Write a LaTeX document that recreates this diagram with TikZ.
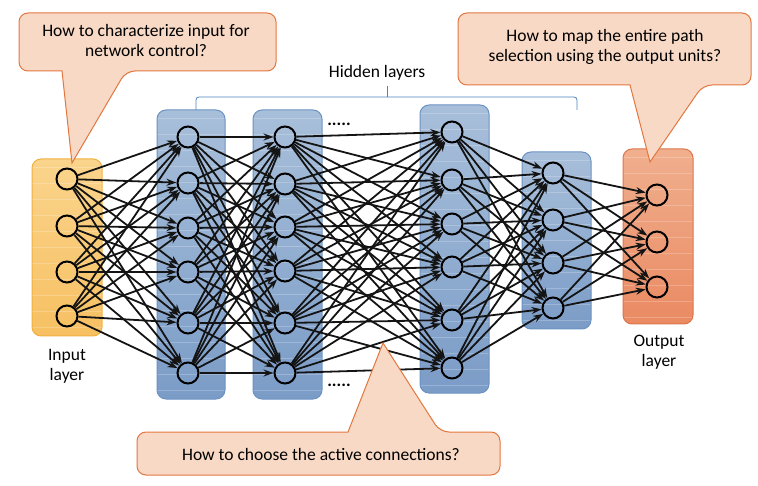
\documentclass[tikz,border=0pt]{standalone}
\usepackage{fontspec}
\setmainfont{Carlito}
\usetikzlibrary{positioning,arrows.meta}
\definecolor{calloutfill}{HTML}{F8D9C5}
\definecolor{calloutdraw}{HTML}{E2773F}
\definecolor{bluetop}{HTML}{A8BFDA}
\definecolor{bluebot}{HTML}{7B9CC7}
\definecolor{blueedge}{HTML}{6A92C2}
\definecolor{inptop}{HTML}{FAD48C}
\definecolor{inpbot}{HTML}{F7C062}
\definecolor{inpedge}{HTML}{F0B040}
\definecolor{outtop}{HTML}{F0AF8E}
\definecolor{outbot}{HTML}{EA8A62}
\definecolor{outedge}{HTML}{E0744A}
\definecolor{bracecol}{HTML}{4F81BD}
\newcommand*{\txt}{\fontsize{17.5}{20}\selectfont}
% Layer box: x1, y1, x2, y2, top colour, bottom colour, border colour
\newcommand*{\layerbox}[7]{%
  \begin{scope}
    \clip[rounded corners=9pt] (#1,#2) rectangle (#3,#4);
    \shade[top color=#5,bottom color=#6] (#1,#2) rectangle (#3,#4);
    \foreach \s in {0,16,...,300}
      \draw[white,opacity=.22,line width=.6pt] (#1,#2+\s+8) -- (#3,#2+\s+8);
  \end{scope}
  \draw[#7,line width=1pt,rounded corners=9pt] (#1,#2) rectangle (#3,#4);
}

\begin{document}
\begin{tikzpicture}[x=1pt,y=-1pt,
    unit/.style={circle,draw,line width=2pt,minimum size=21pt,inner sep=0pt},
    link/.style={-{Stealth[length=10pt,width=7pt]},line width=1.8pt,black!92},
    label/.style={font=\txt,align=center,text=black},
    callout/.style={fill=calloutfill,draw=calloutdraw,line width=1pt}]
\useasboundingbox (0,0) rectangle (758,486);
% Layer boxes
\layerbox{32}{159}{102}{336}{inptop}{inpbot}{inpedge}
\layerbox{157}{110}{225}{399}{bluetop}{bluebot}{blueedge}
\layerbox{253}{110}{322}{399}{bluetop}{bluebot}{blueedge}
\layerbox{420}{105}{489}{393}{bluetop}{bluebot}{blueedge}
\layerbox{522}{152}{591}{329}{bluetop}{bluebot}{blueedge}
\layerbox{623}{149}{693}{324}{outtop}{outbot}{outedge}
% Units of each layer
\foreach \y [count=\i] in {179,226,272,316} \node[unit] (in\i) at (67,\y) {};
\foreach \y [count=\i] in {137,183,228,272,323,373} \node[unit] (ha\i) at (188,\y) {};
\foreach \y [count=\i] in {137,184,227,271,323,373} \node[unit] (hb\i) at (285,\y) {};
\foreach \y [count=\i] in {132,180,224,267,320,368} \node[unit] (hc\i) at (452,\y) {};
\foreach \y [count=\i] in {173,220,263,308} \node[unit] (hd\i) at (553,\y) {};
\foreach \y [count=\i] in {195,242,287} \node[unit] (out\i) at (657,\y) {};
% Connections between neighbouring layers
\foreach \i in {1,...,4} \foreach \j in {1,...,6} \draw[link] (in\i) -- (ha\j);
\foreach \i in {1,...,6} \foreach \j in {1,...,6} \draw[link] (ha\i) -- (hb\j);
\foreach \i in {1,...,6} \foreach \j in {1,...,6} \draw[link] (hb\i) -- (hc\j);
\foreach \i in {1,...,6} \foreach \j in {1,...,4} \draw[link] (hc\i) -- (hd\j);
\foreach \i in {1,...,4} \foreach \j in {1,...,3} \draw[link] (hd\i) -- (out\j);
% Dots for the layers left out
\node[label,font=\bfseries\txt] (dotstop) at (339,124) {.....};
\node[label,font=\bfseries\txt] (dotsbot) at (339,385) {.....};
% Layer labels
\node[label] (inlabel) at (67,366) {Input\\layer};
\node[label] (outlabel) at (659,352) {Output\\layer};
\node[label] (hidlabel) at (377,73) {Hidden layers};
% Bracket over the hidden layers
\draw[bracecol,line width=.8pt,rounded corners=3pt] (196,110) -- (196,97) -- (577,97) -- (577,110);
\draw[bracecol,line width=.8pt] (387,97) -- (387,86);
% Callouts
\draw[callout] (62,71) [rounded corners=9pt] -- (19,71) -- (19,13) -- (276,13) -- (276,71) -- (126,71)
  [sharp corners] -- (72,163) -- cycle;
\node[label] (qinput) at (146,40) {How to characterize input for\\network control?};
\draw[callout] (630,85) [rounded corners=9pt] -- (458,85) -- (458,13) -- (751,13) -- (751,85) -- (703,85)
  [sharp corners] -- (650,162) -- cycle;
\node[label] (qoutput) at (605,47) {How to map the entire path\\selection using the output units?};
\draw[callout] (348,432) [rounded corners=9pt] -- (137,432) -- (137,475) -- (500,475) -- (500,432) -- (440,432)
  [sharp corners] -- (383,343) -- cycle;
\node[label] (qlinks) at (321,454) {How to choose the active connections?};
\end{tikzpicture}
\end{document}
